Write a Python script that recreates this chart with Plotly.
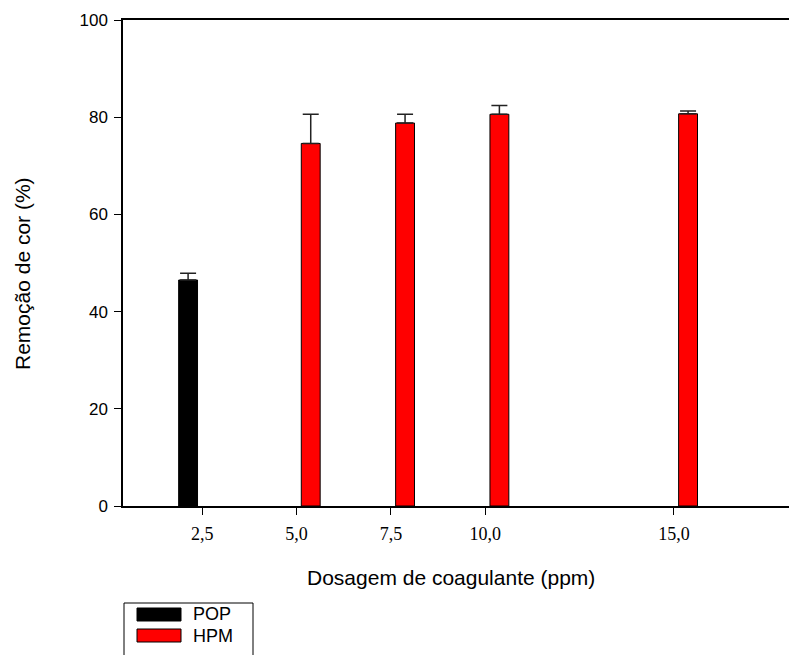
import plotly.graph_objects as go

# Colour removal (%) versus coagulant dosage (ppm)
pop_dose = [2.5]
pop_removal = [46.5]
pop_err = [1.4]

hpm_dose = [5.0, 7.5, 10.0, 15.0]
hpm_removal = [74.6, 78.8, 80.6, 80.7]
hpm_err = [6.0, 1.8, 1.8, 0.6]

dose_ticks = [2.5, 5.0, 7.5, 10.0, 15.0]
dose_labels = ["2,5", "5,0", "7,5", "10,0", "15,0"]
removal_ticks = [0, 20, 40, 60, 80, 100]

W, H = 789, 655
ML, MR, MT, MB = 123, 0, 20, 149
PW, PH = W - ML - MR, H - MT - MB

def px(x):
    return (x - ML) / PW

def py(y):
    return (H - MB - y) / PH

sans = "Liberation Sans, Arial, sans-serif"
serif = "Liberation Serif, Times New Roman, serif"

fig = go.Figure()

def add_series(name, x, y, err, color, offset):
    fig.add_trace(go.Bar(
        name=name, x=x, y=y, width=0.5, offset=offset,
        marker=dict(color=color, line=dict(color="black", width=1)),
        error_y=dict(type="data", symmetric=False, array=err,
                     arrayminus=[0] * len(err), color="#222222",
                     thickness=1.5, width=8),
        showlegend=False,
    ))

add_series("POP", pop_dose, pop_removal, pop_err, "black", -0.625)
add_series("HPM", hpm_dose, hpm_removal, hpm_err, "#ff0000", 0.125)

# legend box drawn by hand (wide swatches)
shapes = [
    dict(type="rect", xref="paper", yref="paper",
         x0=px(124), x1=px(253), y0=py(603), y1=py(662),
         line=dict(color="black", width=1), fillcolor="white"),
    dict(type="rect", xref="paper", yref="paper",
         x0=px(137), x1=px(181), y0=py(608), y1=py(621),
         line=dict(color="black", width=1), fillcolor="black"),
    dict(type="rect", xref="paper", yref="paper",
         x0=px(137), x1=px(181), y0=py(629), y1=py(642),
         line=dict(color="black", width=1), fillcolor="#ff0000"),
]
title_font = dict(family=sans, size=21, color="black")
annotations = [
    dict(text="POP", xref="paper", yref="paper", x=px(191), y=py(614),
         xanchor="left", yanchor="middle", showarrow=False,
         font=dict(family=sans, size=18, color="black")),
    dict(text="HPM", xref="paper", yref="paper", x=px(191), y=py(636),
         xanchor="left", yanchor="middle", showarrow=False,
         font=dict(family=sans, size=18, color="black")),
    # axis titles
    dict(text="Dosagem de coagulante (ppm)", xref="paper", yref="paper",
         x=px(451), y=py(577), xanchor="center", yanchor="middle",
         showarrow=False, font=title_font),
    dict(text="Remoção de cor (%)", xref="paper", yref="paper",
         x=px(22), y=py(274), xanchor="center", yanchor="middle",
         textangle=-90, showarrow=False, font=title_font),
]

fig.update_layout(
    width=W, height=H,
    margin=dict(l=ML, r=MR, t=MT, b=MB, pad=0),
    paper_bgcolor="white", plot_bgcolor="white",
    barmode="overlay",
    shapes=shapes, annotations=annotations,
    xaxis=dict(
        range=[0.4, 18.05], tickmode="array", tickvals=dose_ticks,
        ticktext=dose_labels, ticks="outside", ticklen=7, tickwidth=1,
        tickcolor="black", showline=True, linecolor="black", linewidth=1.5,
        mirror=True, showgrid=False, zeroline=False, ticklabelstandoff=4,
        tickfont=dict(family=serif, size=18, color="black"),
    ),
    yaxis=dict(
        range=[0, 100], tickmode="array", tickvals=removal_ticks,
        ticks="outside", ticklen=7, tickwidth=1, tickcolor="black",
        showline=True, linecolor="black", linewidth=1.5, showgrid=False,
        zeroline=False, ticklabelstandoff=3,
        tickfont=dict(family=sans, size=17, color="black"),
    ),
)

fig.write_html("out.html")
